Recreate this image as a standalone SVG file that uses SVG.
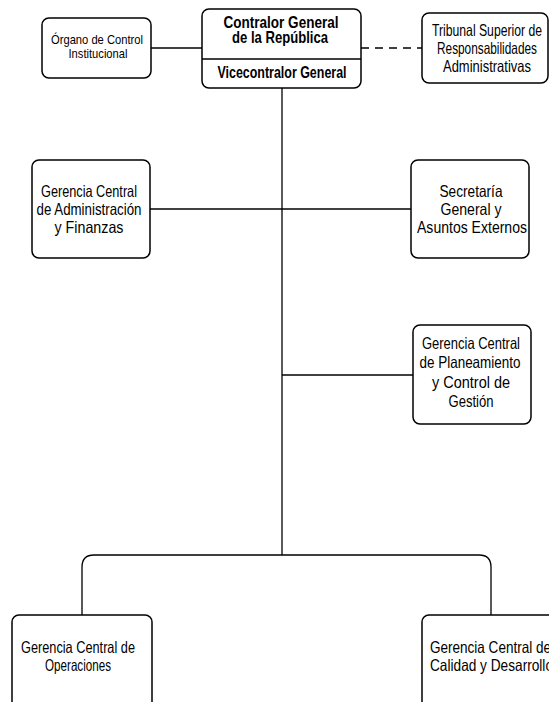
<svg xmlns="http://www.w3.org/2000/svg" width="549" height="702" viewBox="0 0 549 702">
<style>
.box{fill:#fff;stroke:#000;stroke-width:1.5}
.ln{fill:none;stroke:#000;stroke-width:1.3}
.dash{stroke-dasharray:8,6}
text{font-family:"Liberation Sans Narrow","Liberation Sans",Arial,sans-serif;fill:#000;text-anchor:middle}
.t{font-size:16.5px}
.s{font-size:13.5px}
.b{font-size:16.5px;font-weight:bold}
</style>
<rect width="549" height="702" fill="#fff"/>
<g id="connectors">
<path class="ln" d="M151 48 H202"/>
<path class="ln dash" d="M361 48 H422"/>
<path class="ln" d="M282 88 V555"/>
<path class="ln" d="M150 209 H411"/>
<path class="ln" d="M282 375 H413"/>
<path class="ln" d="M82 615 V567 Q82 555 94 555 H479 Q491 555 491 567 V615"/>
</g>
<g id="organo">
<rect class="box" x="42" y="18" width="109" height="60" rx="7"/>
<text class="s" x="97" y="44" textLength="92" lengthAdjust="spacingAndGlyphs">Órgano de Control</text>
<text class="s" x="98" y="58" textLength="59" lengthAdjust="spacingAndGlyphs">Institucional</text>
</g>
<g id="contralor">
<rect class="box" x="202" y="9" width="159" height="79" rx="7"/>
<path class="ln" d="M202 59 H361"/>
<text class="b" x="281" y="28" textLength="115" lengthAdjust="spacingAndGlyphs">Contralor General</text>
<text class="b" x="280" y="43" textLength="96" lengthAdjust="spacingAndGlyphs">de la República</text>
<text class="b" x="282" y="78" textLength="129" lengthAdjust="spacingAndGlyphs">Vicecontralor General</text>
</g>
<g id="tribunal">
<rect class="box" x="422" y="13" width="126" height="70" rx="7"/>
<text class="t" x="487" y="36" textLength="110" lengthAdjust="spacingAndGlyphs">Tribunal Superior de</text>
<text class="t" x="487" y="54" textLength="100" lengthAdjust="spacingAndGlyphs">Responsabilidades</text>
<text class="t" x="487" y="72" textLength="88" lengthAdjust="spacingAndGlyphs">Administrativas</text>
</g>
<g id="administracion">
<rect class="box" x="32" y="160" width="118" height="98" rx="7"/>
<text class="t" x="89" y="197" textLength="96" lengthAdjust="spacingAndGlyphs">Gerencia Central</text>
<text class="t" x="89" y="215" textLength="105" lengthAdjust="spacingAndGlyphs">de Administración</text>
<text class="t" x="89" y="233" textLength="69" lengthAdjust="spacingAndGlyphs">y Finanzas</text>
</g>
<g id="secretaria">
<rect class="box" x="411" y="160" width="118" height="98" rx="7"/>
<text class="t" x="471" y="197" textLength="63" lengthAdjust="spacingAndGlyphs">Secretaría</text>
<text class="t" x="471" y="215" textLength="61" lengthAdjust="spacingAndGlyphs">General y</text>
<text class="t" x="472" y="233" textLength="110" lengthAdjust="spacingAndGlyphs">Asuntos Externos</text>
</g>
<g id="planeamiento">
<rect class="box" x="413" y="325" width="118" height="99" rx="7"/>
<text class="t" x="471" y="349" textLength="98" lengthAdjust="spacingAndGlyphs">Gerencia Central</text>
<text class="t" x="470" y="368" textLength="101" lengthAdjust="spacingAndGlyphs">de Planeamiento</text>
<text class="t" x="471" y="388" textLength="78" lengthAdjust="spacingAndGlyphs">y Control de</text>
<text class="t" x="471" y="407" textLength="45" lengthAdjust="spacingAndGlyphs">Gestión</text>
</g>
<g id="operaciones">
<rect class="box" x="12" y="615" width="140" height="100" rx="7"/>
<text class="t" x="78" y="653" textLength="114" lengthAdjust="spacingAndGlyphs">Gerencia Central de</text>
<text class="t" x="78" y="671" textLength="66" lengthAdjust="spacingAndGlyphs">Operaciones</text>
</g>
<g id="calidad">
<rect class="box" x="422" y="615" width="140" height="100" rx="7"/>
<text class="t" x="430" y="653" style="text-anchor:start" textLength="121" lengthAdjust="spacingAndGlyphs">Gerencia Central de</text>
<text class="t" x="430" y="671" style="text-anchor:start" textLength="123" lengthAdjust="spacingAndGlyphs">Calidad y Desarrollo</text>
</g>
</svg>
